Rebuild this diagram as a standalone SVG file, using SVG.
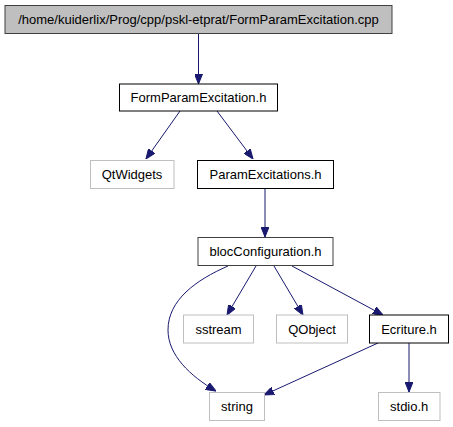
<svg xmlns="http://www.w3.org/2000/svg" width="453" height="427" viewBox="0 0 453 427">
<style>
  .n rect { fill: #ffffff; stroke: #000000; stroke-width: 1; }
  .n.root rect { fill: #bfbfbf; stroke: #404040; }
  .n.dim rect { stroke: #404040; }
  .n.ext rect { stroke: #bfbfbf; }
  .n text { font-family: "Liberation Sans", Arial, Helvetica, sans-serif; font-size: 13px; fill: #000000; text-anchor: middle; }
  .e path { fill: none; stroke: #191970; stroke-width: 1; }
</style>
<defs>
  <marker id="ah" viewBox="0 0 10 8" refX="10" refY="4" markerWidth="10" markerHeight="8" markerUnits="userSpaceOnUse" orient="auto">
    <path d="M0,0 L10,4 L0,8 z" fill="#191970" stroke="#191970" stroke-width="1"/>
  </marker>
</defs>
<rect x="0" y="0" width="453" height="427" fill="#ffffff"/>
<g id="connectors" class="e">
  <path d="M198.5,33.5 L198.5,84" marker-end="url(#ah)"/>
  <path d="M180,111 L146,159" marker-end="url(#ah)"/>
  <path d="M217,111 L253,159" marker-end="url(#ah)"/>
  <path d="M265,188 L265,237" marker-end="url(#ah)"/>
  <path d="M228,266 C196,280 168,300 168,330 C168,355 190,376 216,391" marker-end="url(#ah)"/>
  <path d="M256,266 L227,315" marker-end="url(#ah)"/>
  <path d="M274,266 L303,315" marker-end="url(#ah)"/>
  <path d="M292,266 L383,315" marker-end="url(#ah)"/>
  <path d="M378,343 L264,395" marker-end="url(#ah)"/>
  <path d="M409,343 L409,392" marker-end="url(#ah)"/>
</g>
<g id="node-root" class="n root">
  <rect x="5" y="5.5" width="387" height="28"/>
  <text x="198.5" y="23.5">/home/kuiderlix/Prog/cpp/pskl-etprat/FormParamExcitation.cpp</text>
</g>
<g id="node-FormParamExcitation" class="n">
  <rect x="119.5" y="84" width="158" height="27"/>
  <text x="198.5" y="102">FormParamExcitation.h</text>
</g>
<g id="node-QtWidgets" class="n ext">
  <rect x="90.5" y="160.5" width="83.5" height="28"/>
  <text x="132" y="178.5">QtWidgets</text>
</g>
<g id="node-ParamExcitations" class="n">
  <rect x="197.5" y="160.5" width="136" height="28"/>
  <text x="265.5" y="178.5">ParamExcitations.h</text>
</g>
<g id="node-blocConfiguration" class="n dim">
  <rect x="198" y="237.5" width="135" height="28"/>
  <text x="265.5" y="256">blocConfiguration.h</text>
</g>
<g id="node-sstream" class="n ext">
  <rect x="183.5" y="315" width="70" height="28"/>
  <text x="218.5" y="333.5">sstream</text>
</g>
<g id="node-QObject" class="n ext">
  <rect x="276.5" y="315" width="71" height="28"/>
  <text x="312" y="333.5">QObject</text>
</g>
<g id="node-Ecriture" class="n">
  <rect x="369.5" y="315" width="79" height="28"/>
  <text x="409" y="333.5">Ecriture.h</text>
</g>
<g id="node-string" class="n ext">
  <rect x="209.5" y="392.5" width="55" height="28"/>
  <text x="237" y="411">string</text>
</g>
<g id="node-stdio" class="n ext">
  <rect x="378.5" y="392.5" width="61.5" height="28"/>
  <text x="409.2" y="411">stdio.h</text>
</g>
</svg>
